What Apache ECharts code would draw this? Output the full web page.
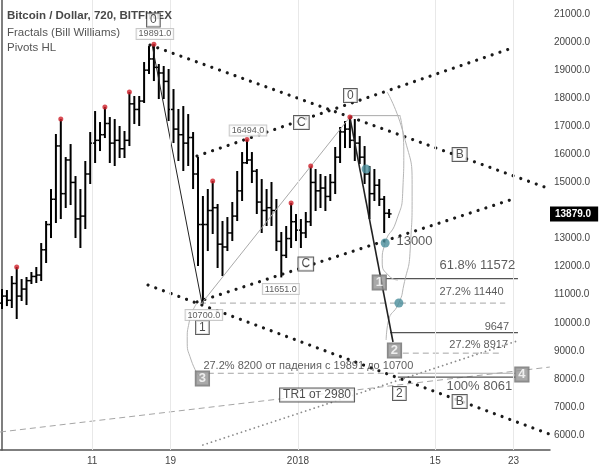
<!DOCTYPE html>
<html>
<head>
<meta charset="utf-8">
<script src="https://cdn.jsdelivr.net/npm/echarts@6.0.0/dist/echarts.min.js"></script>
<style>
  html, body { margin: 0; padding: 0; background: #fff; }
  #chart { width: 599px; height: 468px; }
</style>
</head>
<body>
<div id="chart"></div>
<script>
// 12h bars, index 0 = first visible bar (early Dec 2017)
const opens = [10700, 10950, 10800, 11400, 10950, 11200, 11500, 11650, 11700, 12600,
  13500, 14400, 16300, 14600, 15800, 15000, 13700, 13800, 15300, 16400,
  16500, 16700, 17100, 16400, 16500, 16200, 16500, 17800, 17600, 17900,
  19000, 19400, 19100, 18900, 18600, 17600, 16900, 16700, 16400, 16600,
  15300, 13500, 13500, 14000, 14100, 12800, 12700, 13200, 13800, 14700,
  15700, 15800, 15400, 14300, 14000, 14100, 14000, 12900, 12400, 13000,
  13600, 13300, 13200, 13600, 15000, 14700, 14800, 14500, 15000, 15900,
  16800, 16900, 16500, 16400, 15900, 15300, 14600, 14900, 14400, 13900];
const highs = [11166, 11130, 11629, 11950, 11522, 11594, 11772, 11950, 12805, 13589,
  14729, 16689, 17223, 15869, 16332, 15192, 14729, 15727, 16760, 17508,
  17116, 17651, 17294, 17223, 16974, 16796, 18185, 18043, 18043, 19254,
  19824, 19891, 19183, 19112, 19005, 18292, 17580, 17686, 17401, 16760,
  15869, 14480, 14729, 15014, 14195, 13589, 13731, 14266, 15371, 16047,
  16494, 16047, 15442, 15085, 14729, 14979, 14373, 13197, 13411, 14230,
  13838, 13660, 13910, 15549, 15442, 15264, 15192, 15264, 16226, 16938,
  17152, 17294, 17223, 16617, 16261, 15549, 15442, 15085, 14480, 14017];
const lows = [10525, 10630, 10561, 10169, 10810, 10667, 11416, 11451, 11522, 12164,
  13054, 13589, 13731, 14124, 14230, 13054, 12698, 13375, 14979, 15727,
  16154, 16617, 15727, 15620, 15905, 15905, 16332, 17116, 17045, 17865,
  18898, 18648, 18007, 18007, 17223, 16439, 15798, 15442, 15620, 14800,
  12057, 10700, 12591, 13197, 11986, 11700, 12591, 12947, 13660, 14373,
  15691, 15014, 13910, 13233, 13482, 13482, 12591, 11651, 12342, 12698,
  12947, 12698, 13054, 13482, 14017, 14124, 14017, 14373, 14622, 15727,
  16261, 16261, 15798, 15691, 14979, 13731, 14373, 14195, 13233, 13767];
const closes = [10950, 10800, 11400, 10950, 11200, 11500, 11650, 11700, 12600, 13500,
  14400, 16300, 14600, 15800, 15000, 13700, 13800, 15300, 16400, 16500,
  16700, 17100, 16400, 16500, 16200, 16500, 17800, 17600, 17900, 19000,
  19400, 19100, 18900, 18600, 17600, 16900, 16700, 16400, 16600, 15300,
  13500, 13500, 14000, 14100, 12800, 12700, 13200, 13800, 14700, 15700,
  15800, 15400, 14300, 14000, 14100, 14000, 12900, 12400, 13000, 13600,
  13300, 13200, 13600, 15000, 14700, 14800, 14500, 15000, 15900, 16800,
  16900, 16500, 16400, 15900, 15300, 14600, 14900, 14400, 13900, 13879];

const fractalIdx = [3, 12, 21, 26, 31, 43, 50, 59, 63, 71];
const pivotDots = [[74.3, 15478], [78.2, 12841], [81.0, 10703]];
const lastPrice = 13879;

const dateTicks = [18.4, 34.4, 60.4, 88.4, 104.4];
const dateLabels = ['11', '19', '2018', '15', '23'];
// 14000 sits under the last price tag
const priceTicks = [6000, 7000, 8000, 9000, 10000, 11000, 12000, 13000,
  15000, 16000, 17000, 18000, 19000, 20000, 21000];

// drawings, in [bar index, price]
const bigDotLines = [
  [[30.2, 19895], [111.3, 14800]],
  [[29.8, 11344], [111.6, 6040]],
  [[39.8, 15940], [104.7, 19824]],
  [[39.8, 10739], [103.7, 14373]]
];
const smallDotLines = [[[41.0, 5644], [105.1, 9349]]];
const dashLines = [
  [[-0.4, 6107], [111.8, 8422]],
  [[40.4, 10700], [102.7, 10700]],
  [[81.8, 8917], [102.2, 8917]],
  [[42.0, 8200], [81.2, 8200]]
];
const waveLines = [
  [[30.6, 19931], [40.8, 10703]],
  [[71.0, 17330], [79.8, 9314]]
];
const thinGrayLines = [
  [[40.8, 10703], [71.0, 17330]],
  [[71.0, 17380], [81.2, 17380]],
  [[80.8, 8200], [104.9, 8200]]
];
const levelLines = [
  [[78.4, 11572], [105.3, 11572]],
  [[79.2, 9647], [105.3, 9647]],
  [[80.8, 8061], [104.9, 8061]]
];
const arcs = [
  [[39.8, 10703], [38.2, 10026], [37.8, 9385], [38.6, 8672], [40.2, 8101]],
  [[78.6, 18221], [82.0, 16689], [83.7, 14729], [83.3, 12591], [82.0, 11344], [81.0, 10703], [78.8, 10026], [78.4, 9385]],
  [[81.2, 17401], [82.0, 16154], [81.8, 14729], [80.4, 13589], [78.2, 12841], [77.6, 12164], [79.0, 11665], [80.8, 11522]]
];

const whiteBoxes = [
  [30.9, 20786, '0'], [71.1, 18096, '0'], [61.1, 17134, 'C'], [62.0, 12092, 'C'],
  [93.4, 15994, 'B'], [93.4, 7193, 'B'], [40.9, 9830, '1'], [81.1, 7479, '2'],
  [64.3, 7425, 'TR1 от 2980']
];
const grayBoxes = [[77.0, 11433, '1'], [80.1, 9010, '2'], [40.9, 8013, '3'], [106.1, 8155, '4']];
const priceTags = [[31.2, 20288, '19891.0'], [41.2, 10275, '10700.0'], [50.2, 16849, '16494.0'], [56.9, 11202, '11651.0']];
const bigTexts = [[80.6, 12876, '13000'], [89.4, 12021, '61.8% 11572'], [90.8, 7710, '100% 8061']];
const smallTexts = [
  [89.4, 11095, '27.2% 11440'], [98.6, 9848, '9647'], [91.4, 9206, '27.2% 8917'],
  [41.2, 8458, '27.2% 8200 от падения с 19891 до 10700']
];

const chart = echarts.init(document.getElementById('chart'));

const renderOhlc = (params, api) => {
  const x = api.value(0);
  const o = api.coord([x, api.value(1)]);
  const h = api.coord([x, api.value(2)]);
  const l = api.coord([x, api.value(3)]);
  const c = api.coord([x, api.value(4)]);
  const st = { stroke: '#000', lineWidth: 2 };
  return {
    type: 'group',
    children: [
      { type: 'line', shape: { x1: h[0], y1: h[1] - 1, x2: l[0], y2: l[1] + 1 }, style: st },
      { type: 'line', shape: { x1: o[0] - 2.5, y1: o[1], x2: o[0], y2: o[1] }, style: { stroke: '#000', lineWidth: 1.5 } },
      { type: 'line', shape: { x1: c[0], y1: c[1], x2: c[0] + 2.5, y2: c[1] }, style: { stroke: '#000', lineWidth: 1.5 } }
    ]
  };
};

const lineSeries = (pts, style, extra) => Object.assign({
  type: 'line', data: pts, symbol: 'none', silent: true, animation: false,
  lineStyle: style, z: 3
}, extra || {});

const textSeries = (items, label, z) => ({
  type: 'scatter', data: items, symbolSize: 1, silent: true, animation: false,
  itemStyle: { color: 'transparent' }, z: z || 6,
  label: Object.assign({ show: true, formatter: p => p.data[2] }, label)
});

let series = [];

// vertical grid lines + last price tag
series.push({
  type: 'line', data: [], silent: true, animation: false,
  markLine: {
    silent: true, symbol: 'none', animation: false,
    data: dateTicks.map(v => ({ xAxis: v, lineStyle: { color: '#e8e8e8', width: 1, type: 'solid' }, label: { show: false } }))
      .concat([{
        yAxis: lastPrice,
        lineStyle: { color: 'transparent', width: 0 },
        label: {
          show: true, position: 'end', distance: 0, formatter: lastPrice.toFixed(1),
          backgroundColor: '#000', color: '#fff', fontWeight: 'bold', fontSize: 10,
          fontFamily: 'Liberation Sans', padding: [3, 7, 2, 5]
        }
      }])
  }
});

series.push({
  type: 'custom', renderItem: renderOhlc, animation: false, z: 2,
  data: opens.map((o, i) => [i, o, highs[i], lows[i], closes[i]]),
  encode: { x: 0, y: [1, 2, 3, 4] }
});

bigDotLines.forEach(p => series.push(lineSeries(p, { color: '#1a1a1a', width: 3.2, type: [0.01, 8.2], cap: 'round' })));
smallDotLines.forEach(p => series.push(lineSeries(p, { color: '#8a8a8a', width: 1.8, type: [0.01, 4.5], cap: 'round' })));
dashLines.forEach(p => series.push(lineSeries(p, { color: '#a5a5a5', width: 1, type: [6, 4] })));
thinGrayLines.forEach(p => series.push(lineSeries(p, { color: '#aaaaaa', width: 1 })));
levelLines.forEach(p => series.push(lineSeries(p, { color: '#555', width: 1.3 })));
arcs.forEach(p => series.push(lineSeries(p, { color: '#b5b5b5', width: 1 }, { smooth: 0.6 })));
waveLines.forEach((p, i) => series.push(lineSeries(p, { color: '#222', width: i ? 1.6 : 1 })));

series.push({
  type: 'scatter', silent: true, animation: false, z: 5,
  data: fractalIdx.map(i => [i, highs[i]]),
  symbolSize: 5, symbolOffset: [0, -1], itemStyle: { color: '#d0202a' }
});
series.push({
  type: 'scatter', silent: true, animation: false, z: 5,
  data: pivotDots, symbolSize: 9, itemStyle: { color: '#4a8d9b' }
});

series.push(textSeries(whiteBoxes, {
  position: 'inside', color: '#222', fontSize: 12, fontFamily: 'Liberation Sans',
  backgroundColor: '#fff', borderColor: '#333', borderWidth: 1, padding: [1, 3, 0, 3]
}, 7));
series.push(textSeries(grayBoxes, {
  position: 'inside', color: '#fff', fontSize: 13, fontWeight: 'bold', fontFamily: 'Liberation Sans',
  backgroundColor: '#949494', borderColor: '#6a6a6a', borderWidth: 1, padding: [1, 3, 0, 3]
}, 7));
series.push(textSeries(priceTags, {
  position: 'inside', color: '#333', fontSize: 9, fontFamily: 'Liberation Sans',
  backgroundColor: '#fff', borderColor: '#bbb', borderWidth: 1, padding: [1, 2, 0, 2]
}, 7));
series.push(textSeries(bigTexts, {
  position: [0, 0], align: 'left', verticalAlign: 'middle', color: '#333', fontSize: 13,
  fontFamily: 'Liberation Sans'
}));
series.push(textSeries(smallTexts, {
  position: [0, 0], align: 'left', verticalAlign: 'middle', color: '#333', fontSize: 11,
  fontFamily: 'Liberation Sans'
}));

const option = {
  animation: false,
  backgroundColor: '#fff',
  title: {
    text: 'Bitcoin / Dollar, 720, BITFINEX',
    subtext: 'Fractals (Bill Williams)\nPivots HL',
    left: 7, top: 10, itemGap: 3, padding: 0,
    textStyle: { fontSize: 11.5, fontWeight: 'bold', color: '#484848', fontFamily: 'Liberation Sans' },
    subtextStyle: { fontSize: 11.5, color: '#555', lineHeight: 15, fontFamily: 'Liberation Sans' }
  },
  grid: { left: 0, right: 49, top: 0, bottom: 18 },
  xAxis: {
    type: 'value', min: -0.41, max: 111.84,
    axisLine: { show: true, lineStyle: { color: '#555', width: 1.5 } },
    axisTick: { show: false },
    splitLine: { show: false },
    axisLabel: {
      customValues: dateTicks, margin: 6, color: '#444', fontSize: 10, fontFamily: 'Liberation Sans',
      formatter: v => dateLabels[dateTicks.indexOf(v)] || ''
    }
  },
  yAxis: {
    type: 'value', position: 'right', min: 5466, max: 21500, scale: true,
    axisLine: { show: true, lineStyle: { color: '#555', width: 1.5 } },
    axisTick: { show: false },
    splitLine: { show: false },
    axisLabel: {
      customValues: priceTicks, margin: 4, color: '#444', fontSize: 10, fontFamily: 'Liberation Sans',
      formatter: v => v.toFixed(1)
    }
  },
  series: series
};

chart.setOption(option);
window.addEventListener('resize', () => {
  chart.resize();
});
</script>
</body>
</html>
